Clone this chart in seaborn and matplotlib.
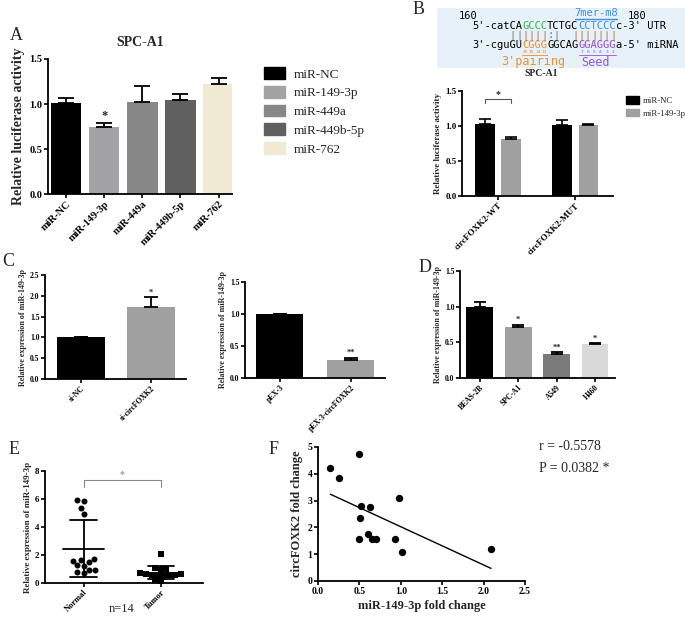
import numpy as np
import pandas as pd
import matplotlib
matplotlib.use('Agg')
import matplotlib.pyplot as plt
import seaborn as sns
from matplotlib.patches import Patch

# ---- data ----
a_groups = ['miR-NC', 'miR-149-3p', 'miR-449a', 'miR-449b-5p', 'miR-762']
a_means = [1.01, 0.75, 1.02, 1.05, 1.22]
a_errs = [0.06, 0.04, 0.18, 0.06, 0.07]
a_colors = ['#000000', '#a3a3a5', '#878787', '#606060', '#f0ead4']

b_targets = ['circFOXK2-WT', 'circFOXK2-MUT']
b_mirs = ['miR-NC', 'miR-149-3p']
b_nc = [1.03, 1.01]
b_nc_err = [0.07, 0.07]
b_149 = [0.81, 1.02]
b_149_err = [0.03, 0.005]

c1_groups = ['si-NC', 'si-circFOXK2']
c1_means = [1.0, 1.74]
c1_errs = [0.01, 0.22]
c2_groups = ['pEX-3', 'pEX-3-circFOXK2']
c2_means = [1.0, 0.28]
c2_errs = [0.0, 0.04]

d_groups = ['BEAS-2B', 'SPC-A1', 'A549', 'H460']
d_means = [1.0, 0.72, 0.33, 0.47]
d_errs = [0.06, 0.03, 0.03, 0.02]
d_colors = ['#000000', '#a0a0a0', '#7a7a7a', '#d9d9d9']

e_normal = [5.9, 5.85, 5.35, 4.95, 1.7, 1.6, 1.65, 1.5, 1.3, 1.25, 0.95, 0.9, 0.8, 0.7]
e_tumor = [2.1, 1.1, 1.0, 0.95, 0.7, 0.65, 0.65, 0.6, 0.6, 0.6, 0.55, 0.5, 0.2, 0.15]

f_mir = [0.15, 0.25, 0.5, 0.52, 0.63, 0.51, 0.98, 0.6, 0.5, 0.65, 0.7, 0.93, 1.01, 2.09]
f_circ = [4.2, 3.85, 4.75, 2.8, 2.75, 2.35, 3.1, 1.75, 1.55, 1.55, 1.55, 1.57, 1.07, 1.18]

sns.set_theme(style='ticks')
plt.rcParams['font.family'] = ['Liberation Serif', 'DejaVu Serif']
plt.rcParams['font.weight'] = 'bold'
plt.rcParams['axes.labelweight'] = 'bold'
plt.rcParams['axes.linewidth'] = 1.3
plt.rcParams['axes.edgecolor'] = 'black'

W, H = 685, 620
fig = plt.figure(figsize=(W / 100, H / 100), dpi=100)


def px_axes(x0, y0, x1, y1):
    return fig.add_axes([x0 / W, 1 - y1 / H, (x1 - x0) / W, (y1 - y0) / H])


def style(ax, ls):
    sns.despine(ax=ax)
    ax.tick_params(direction='out', length=3, width=1.2, labelsize=ls, colors='black', pad=1)
    for t in ax.get_xticklabels() + ax.get_yticklabels():
        t.set_fontweight('bold')


def bars(ax, groups, means, errs, colors, width, cap):
    sns.barplot(x=groups, y=means, hue=groups, palette=colors, width=width, legend=False,
                errorbar=None, saturation=1, edgecolor='none', ax=ax)
    ax.errorbar(range(len(groups)), means, yerr=[np.zeros(len(errs)), errs], fmt='none',
                ecolor='black', elinewidth=1.3, capsize=cap, capthick=1.3)


def label(x, y, s):
    fig.text(x / W, 1 - y / H, s, fontsize=13, fontweight='normal', ha='center', va='center')


# ---- A ----
ax = px_axes(48, 59, 232, 194)
bars(ax, a_groups, a_means, a_errs, a_colors, 0.8, 6)
ax.set_xlim(-0.47, 4.35)
ax.set_ylim(0, 1.5)
ax.set_yticks([0, 0.5, 1.0, 1.5])
ax.set_ylabel('Relative luciferase activity', fontsize=10, labelpad=3)
ax.set_title('SPC-A1', fontsize=10, fontweight='bold', pad=9)
ax.text(1, a_means[1] + a_errs[1] + 0.01, '*', ha='center', va='bottom', fontsize=9)
style(ax, 7.5)
plt.setp(ax.get_xticklabels(), rotation=45, ha='right', rotation_mode='anchor', fontsize=7.5)
ax.legend([Patch(color=c) for c in a_colors], a_groups, loc='upper left',
          bbox_to_anchor=(259 / W, 1 - 62 / H), bbox_transform=fig.transFigure, frameon=False,
          handlelength=1.6, handleheight=1.0, labelspacing=0.4, borderaxespad=0, handletextpad=0.6,
          prop={'family': 'Liberation Serif', 'size': 9.5, 'weight': 'normal'})
label(16, 35, 'A')

# ---- B sequence ----
sx = px_axes(437, 8, 685, 68)
sx.set_xlim(437, 685)
sx.set_ylim(68, 8)
sx.set_facecolor('#e6f1fa')
sx.set_xticks([])
sx.set_yticks([])
for s in sx.spines.values():
    s.set_visible(False)
x0, cw = 472, 6.27
mono = dict(family='DejaVu Sans Mono', fontsize=7.5, fontweight='normal', va='center', ha='left')
green, blue, orange, purple, brown = '#3fb04a', '#3d8fe3', '#f0902a', '#9a4fd8', '#b5763f'


def seq_line(y, segs):
    i = 0
    for txt, col in segs:
        sx.text(x0 + i * cw, y, txt, color=col, **mono)
        i += len(txt)


seq_line(26, [("5'-catCA", 'black'), ('GCCC', green), ('TCTGC', 'black'), ('CCTCCC', blue), ("c-3' UTR", 'black')])
seq_line(45, [("3'-cguGU", 'black'), ('CGGG', orange), ('GGCAG', 'black'), ('GGAGGG', purple), ("a-5' miRNA", 'black')])
pair_idx = [6, 7, 8, 9, 10, 11, 12, 13, 16, 17, 18, 19, 20, 21, 22]
for i in pair_idx:
    ch = ':' if i == 12 else '|'
    col = '#777777' if i in (6, 7, 12, 13) else brown
    sx.text(x0 + i * cw, 35.5, ch, color=col, **mono)
sx.text(468, 16, '160', color='black', **{**mono, 'ha': 'center'})
sx.text(637, 16, '180', color='black', **{**mono, 'ha': 'center'})
sx.text(596, 13.5, '7mer-m8', color=blue, **{**mono, 'ha': 'center'})
sx.plot([575, 617], [19, 19], color=blue, lw=1)
for k, n in enumerate(['16', '15', '14', '13']):
    sx.text(x0 + (8 + k + 0.5) * cw, 52, n, color=orange, fontsize=3.2, fontweight='normal',
            family='DejaVu Sans', ha='center', va='center')
for k, n in enumerate(['7', '6', '5', '4', '3', '2']):
    sx.text(x0 + (17 + k + 0.5) * cw, 52, n, color=purple, fontsize=3.2, fontweight='normal',
            family='DejaVu Sans', ha='center', va='center')
sx.plot([x0 + 8 * cw, x0 + 12 * cw], [55, 55], color=orange, lw=0.6)
sx.plot([x0 + 17 * cw, x0 + 23 * cw], [55, 55], color=purple, lw=0.6)
sx.text(533, 62, "3'pairing", color=orange, **{**mono, 'ha': 'center', 'fontsize': 8.5})
sx.text(596, 62, 'Seed', color=purple, **{**mono, 'ha': 'center', 'fontsize': 8.5})
fig.text(541 / W, 1 - 74 / H, 'SPC-A1', fontsize=7, fontweight='bold', ha='center', va='center')
label(419, 9, 'B')

# ---- B bars ----
ax = px_axes(462, 91, 613, 196)
b_df = pd.DataFrame({'target': b_targets * 2, 'mir': [b_mirs[0]] * 2 + [b_mirs[1]] * 2,
                     'val': b_nc + b_149})
sns.barplot(data=b_df, x='target', y='val', hue='mir', hue_order=b_mirs, palette=['#000000', '#a0a0a0'],
            width=0.68, gap=0.25, errorbar=None, saturation=1, edgecolor='none', legend=False, ax=ax)
offs = [-0.17, 0.17]
for j, (m, e) in enumerate([(b_nc, b_nc_err), (b_149, b_149_err)]):
    ax.errorbar(np.arange(2) + offs[j], m, yerr=[np.zeros(2), e], fmt='none', ecolor='black',
                elinewidth=1.2, capsize=4, capthick=1.2)
ax.plot([-0.17, -0.17, 0.17, 0.17], [1.33, 1.38, 1.38, 1.33], color='#555555', lw=0.8)
ax.text(0, 1.38, '*', ha='center', va='bottom', fontsize=7)
ax.set_xlim(-0.47, 1.49)
ax.set_ylim(0, 1.5)
ax.set_yticks([0, 0.5, 1.0, 1.5])
ax.set_xlabel('')
ax.set_ylabel('Relative luciferase activity', fontsize=6.5, labelpad=2)
style(ax, 6.5)
plt.setp(ax.get_xticklabels(), rotation=45, ha='right', rotation_mode='anchor', fontsize=6.5)
ax.legend([Patch(color='#000000'), Patch(color='#a0a0a0')], b_mirs, loc='upper left',
          bbox_to_anchor=(622 / W, 1 - 93 / H), bbox_transform=fig.transFigure, frameon=False,
          handlelength=1.5, handleheight=0.9, labelspacing=0.45, borderaxespad=0, handletextpad=0.5,
          prop={'family': 'Liberation Serif', 'size': 6.3, 'weight': 'normal'})

# ---- C left ----
ax = px_axes(45, 275, 186, 379)
bars(ax, c1_groups, c1_means, c1_errs, ['#000000', '#a0a0a0'], 0.69, 5)
ax.text(1, c1_means[1] + c1_errs[1] + 0.02, '*', ha='center', va='bottom', fontsize=6)
ax.set_xlim(-0.51, 1.5)
ax.set_ylim(0, 2.5)
ax.set_yticks([0, 0.5, 1.0, 1.5, 2.0, 2.5])
ax.set_ylabel('Relative expression of miR-149-3p', fontsize=5.8, labelpad=2)
style(ax, 5.5)
plt.setp(ax.get_xticklabels(), rotation=45, ha='right', rotation_mode='anchor', fontsize=5.5)
label(8, 262, 'C')

# ---- C right ----
ax = px_axes(245, 282, 385, 378)
bars(ax, c2_groups, c2_means, c2_errs, ['#000000', '#a0a0a0'], 0.66, 5)
ax.text(1, c2_means[1] + c2_errs[1] + 0.01, '**', ha='center', va='bottom', fontsize=6)
ax.set_xlim(-0.49, 1.48)
ax.set_ylim(0, 1.5)
ax.set_yticks([0, 0.5, 1.0, 1.5])
ax.set_ylabel('Relative expression of miR-149-3p', fontsize=5.8, labelpad=2)
style(ax, 5.5)
plt.setp(ax.get_xticklabels(), rotation=45, ha='right', rotation_mode='anchor', fontsize=5.5)

# ---- D ----
ax = px_axes(460, 271, 615, 378)
bars(ax, d_groups, d_means, d_errs, d_colors, 0.7, 4)
for i, s in [(1, '*'), (2, '**'), (3, '*')]:
    ax.text(i, d_means[i] + d_errs[i] + 0.01, s, ha='center', va='bottom', fontsize=6)
ax.set_xlim(-0.51, 3.52)
ax.set_ylim(0, 1.5)
ax.set_yticks([0, 0.5, 1.0, 1.5])
ax.set_ylabel('Relative expression of miR-149-3p', fontsize=5.8, labelpad=2)
style(ax, 5.5)
plt.setp(ax.get_xticklabels(), rotation=45, ha='right', rotation_mode='anchor', fontsize=5.5)
label(425, 268, 'D')

# ---- E ----
ax = px_axes(45, 471, 203, 583)
e_df = pd.DataFrame({'group': ['Normal'] * len(e_normal) + ['Tumor'] * len(e_tumor),
                     'value': e_normal + e_tumor})
sns.swarmplot(data=e_df[e_df.group == 'Normal'], x='group', y='value', order=['Normal', 'Tumor'],
              marker='o', color='black', size=4.3, ax=ax)
sns.swarmplot(data=e_df[e_df.group == 'Tumor'], x='group', y='value', order=['Normal', 'Tumor'],
              marker='s', color='black', size=4.0, ax=ax)
for i, vals in enumerate([e_normal, e_tumor]):
    m, sd = np.mean(vals), np.std(vals, ddof=1)
    ax.plot([i - 0.27, i + 0.27], [m, m], color='black', lw=1.3, zorder=5)
    ax.plot([i, i], [m - sd, m + sd], color='black', lw=1.3, zorder=5)
    ax.plot([i - 0.17, i + 0.17], [m + sd, m + sd], color='black', lw=1.3, zorder=5)
    ax.plot([i - 0.17, i + 0.17], [m - sd, m - sd], color='black', lw=1.3, zorder=5)
ax.plot([0, 0, 1, 1], [6.85, 7.35, 7.35, 6.85], color='#888888', lw=0.8)
ax.text(0.5, 7.4, '*', ha='center', va='bottom', fontsize=7, color='#999999')
ax.set_xlim(-0.5, 1.55)
ax.set_ylim(0, 8)
ax.set_yticks([0, 2, 4, 6, 8])
ax.set_xlabel('')
ax.set_ylabel('Relative expression of miR-149-3p', fontsize=6.5, labelpad=2)
style(ax, 6.5)
plt.setp(ax.get_xticklabels(), rotation=45, ha='right', rotation_mode='anchor', fontsize=6)
fig.text(122 / W, 1 - 609 / H, 'n=14', fontsize=9, fontweight='normal', ha='center', va='center')
label(14, 449, 'E')

# ---- F ----
ax = px_axes(318, 447, 525, 581)
sns.regplot(x=f_mir, y=f_circ, ci=None, ax=ax,
            scatter_kws=dict(s=28, color='black', alpha=1, linewidths=0),
            line_kws=dict(color='black', lw=1))
ax.set_xlim(0, 2.5)
ax.set_ylim(0, 5)
ax.set_xticks([0, 0.5, 1.0, 1.5, 2.0, 2.5])
ax.set_yticks([0, 1, 2, 3, 4, 5])
ax.set_xlabel('miR-149-3p fold change', fontsize=9, labelpad=3)
ax.set_ylabel('circFOXK2 fold change', fontsize=9, labelpad=3)
style(ax, 7)
fig.text(539 / W, 1 - 447 / H, 'r = -0.5578', fontsize=10, fontweight='normal', va='center')
fig.text(539 / W, 1 - 469 / H, 'P = 0.0382 *', fontsize=10, fontweight='normal', va='center')
label(274, 450, 'F')

fig.savefig('out.png', dpi=100)
